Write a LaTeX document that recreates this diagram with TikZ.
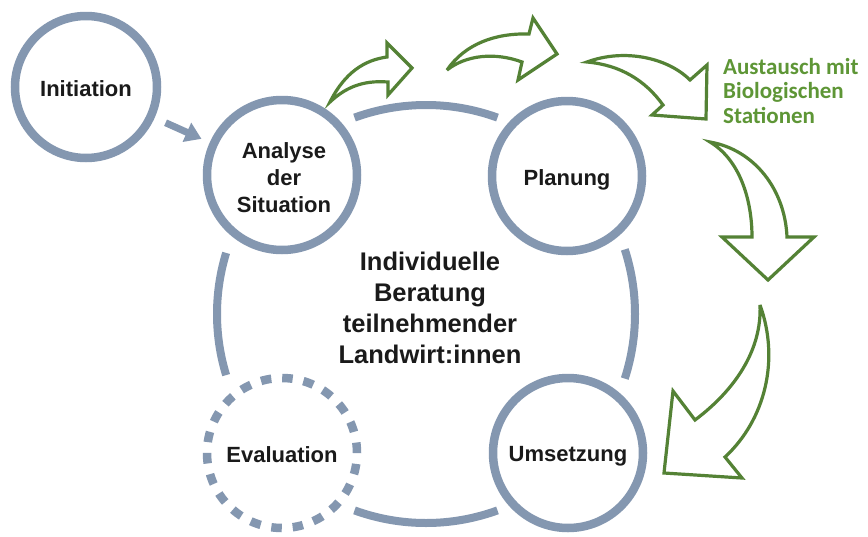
\documentclass[tikz,border=0pt]{standalone}
\usepackage{fontspec}
\setmainfont{Liberation Sans}
\newfontfamily\greenfont{Carlito}
\usetikzlibrary{arrows.meta,calc}

\definecolor{ringblue}{HTML}{8497B0}
\definecolor{leafgreen}{HTML}{548235}
\definecolor{labelgreen}{HTML}{5E9636}
\definecolor{ink}{HTML}{1A1A1A}

\begin{document}
\begin{tikzpicture}[x=1pt,y=-1pt,
  stage/.style={circle, draw=ringblue, line width=8.5pt, minimum size=150pt,
    inner sep=0pt},
  stagetext/.style={align=center, text=ink, inner sep=0pt,
    font=\bfseries\fontsize{22}{27}\selectfont},
  ringarc/.style={draw=ringblue, line width=8pt},
  blockarrow/.style={draw=leafgreen, fill=white, line width=3.2pt,
    line join=miter, miter limit=6},
]
\useasboundingbox (0,0) rectangle (868,536);
\fill[white] (0,0) rectangle (868,536);

% the advisory cycle: four ring segments between the stages
\coordinate (rc) at (426,314);
\draw[ringarc] ($(rc)+(-70:209)$) arc[start angle=-70, end angle=-110, radius=209];
\draw[ringarc] ($(rc)+(-163:209)$) arc[start angle=-163, end angle=-197, radius=209];
\draw[ringarc] ($(rc)+(-250:209)$) arc[start angle=-250, end angle=-290, radius=209];
\draw[ringarc] ($(rc)+(18:209)$) arc[start angle=18, end angle=-18, radius=209];

% stages
\node[stage, minimum size=142pt] (init) at (86,87) {};
\node[stage] (ana) at (282,175) {};
\node[stage] (plan) at (567,176) {};
\node[stage, dash pattern=on 10.5pt off 10.92pt] (eval) at (282,453) {};
\node[stage] (ums) at (568,453) {};

\node[stagetext] (init-t) at ($(init)+(0,2)$) {Initiation};
\node[stagetext] (ana-t) at ($(ana)+(2,3)$) {Analyse\\der\\Situation};
\node[stagetext] (plan-t) at ($(plan)+(0,4)$) {Planung};
\node[stagetext] (eval-t) at ($(eval)+(0,2)$) {Evaluation};
\node[stagetext] (ums-t) at ($(ums)+(0,3)$) {Umsetzung};

\node[align=center, text=ink, font=\bfseries\fontsize{25.5}{31}\selectfont]
  (core) at (430,308) {Individuelle\\Beratung\\teilnehmender\\Landwirt:innen};

% entry arrow
\draw[ringblue, line width=7pt, -{Triangle[length=16pt,width=20pt]},
  shorten <=12pt, shorten >=9pt] (init) -- (ana);

% exchange with the biological stations
\node[anchor=north west, inner sep=0pt, align=left, text=labelgreen,
  font=\greenfont\bfseries\fontsize{23}{24.5}\selectfont]
  (bio) at (723,58) {Austausch mit\\Biologischen\\Stationen};

\path[blockarrow] (330,102) .. controls (345,72) and (365,60) .. (387,57)
  -- (387,43) -- (412,68) -- (388,95) -- (388,82)
  .. controls (362,80) and (345,88) .. cycle;
\path[blockarrow] (447,70) .. controls (465,44) and (495,33) .. (529,34)
  -- (533,18) -- (557,54) -- (518,80) -- (522,62)
  .. controls (495,52) and (466,55) .. cycle;
\path[blockarrow] (587,62) .. controls (625,48) and (668,58) .. (690,80)
  -- (707,65) -- (706,119) -- (652,115) -- (663,105)
  .. controls (645,80) and (620,65) .. cycle;
\path[blockarrow] (710,142) .. controls (740,160) and (752,200) .. (752,237)
  -- (722,237) -- (768,280) -- (814,237) -- (787,237)
  .. controls (785,190) and (755,150) .. cycle;
\path[blockarrow] (760,305) .. controls (780,360) and (765,420) .. (725,457)
  -- (742,478) -- (664,473) -- (673,391) -- (695,420)
  .. controls (735,390) and (762,350) .. cycle;
\end{tikzpicture}
\end{document}
